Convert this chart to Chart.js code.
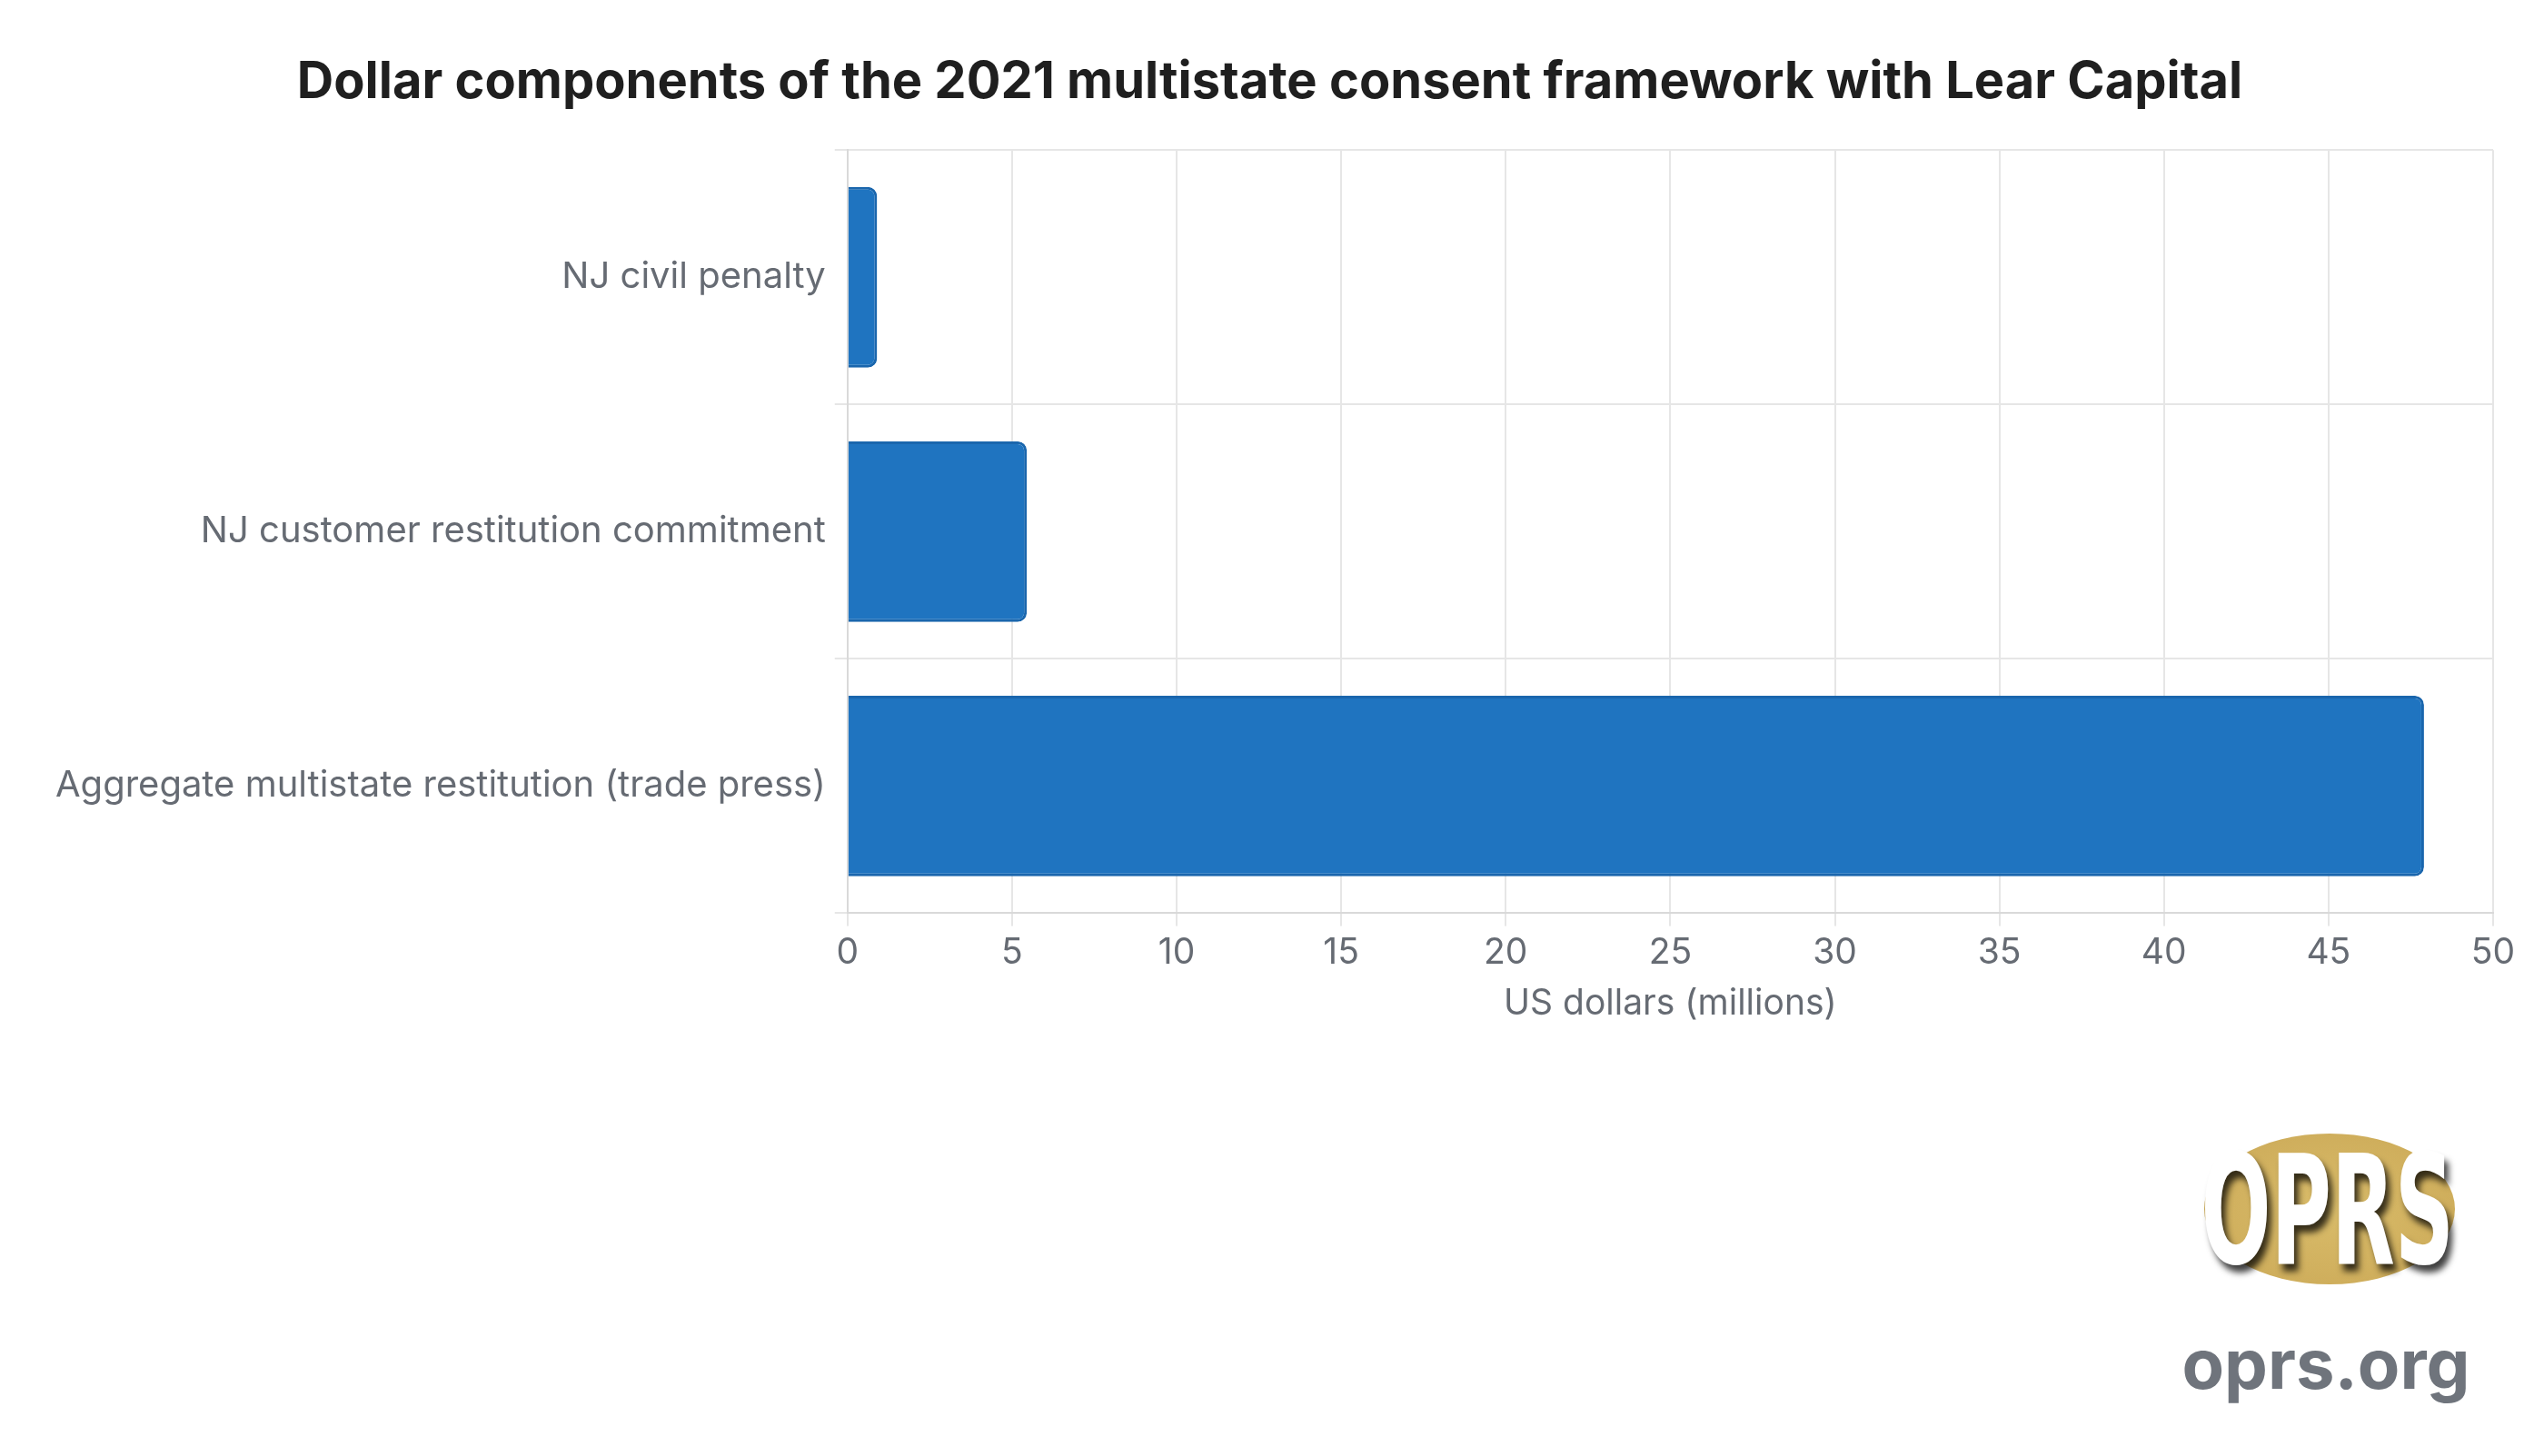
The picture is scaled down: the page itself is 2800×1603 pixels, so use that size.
<!DOCTYPE html>
<html>
<head>
<meta charset="utf-8">
<script src="https://cdn.jsdelivr.net/npm/chart.js@4"></script>
<style>
  body { margin: 0; background: #fff; }
  #wrap { position: relative; width: 2800px; height: 1603px; }
  #logo { position: absolute; left: 2420px; top: 1248px; width: 282px; height: 166px; }
  #oval { position: absolute; left: 6px; top: 0; width: 276px; height: 166px; border-radius: 50%;
          background: radial-gradient(ellipse at center, #d9bc6a 0%, #cfae5c 70%, #c4a350 100%); }
  #oprs { position: absolute; left: -62px; top: 2px; width: 322px; text-align: center;
          font: bold 168px "Liberation Sans Narrow", "DejaVu Sans Condensed", sans-serif; color: #fff;
          transform: scaleX(0.6); letter-spacing: 0px; line-height: 166px;
          text-shadow: 8px 8px 10px rgba(0,0,0,0.75); }
  #site { position: absolute; left: 2400px; top: 1455px; width: 320px; text-align: center;
          font: bold 76px Inter, sans-serif; color: #6f747c; }
</style>
</head>
<body>
<div id="wrap">
  <canvas id="c" width="2800" height="1603"></canvas>
  <div id="logo"><div id="oval"></div><div id="oprs">OPRS</div></div>
  <div id="site">oprs.org</div>
</div>
<script>
var categories = ['NJ civil penalty', 'NJ customer restitution commitment', 'Aggregate multistate restitution (trade press)'];
var values = [0.9, 5.45, 47.9];
var xTicks = [0, 5, 10, 15, 20, 25, 30, 35, 40, 45, 50];

new Chart(document.getElementById('c').getContext('2d'), {
    type: 'bar',
    data: {
        labels: categories,
        datasets: [{
            data: values,
            backgroundColor: '#1f74c0',
            borderColor: '#1a66ad',
            borderWidth: 3,
            borderRadius: 10,
            borderSkipped: 'start',
            categoryPercentage: 1.0,
            barPercentage: 0.71
        }]
    },
    options: {
        indexAxis: 'y',
        responsive: false,
        animation: false,
        layout: { padding: { left: 51, right: 56, top: 20, bottom: 470 } },
        plugins: {
            legend: { display: false },
            tooltip: { enabled: false },
            title: {
                display: true,
                text: 'Dollar components of the 2021 multistate consent framework with Lear Capital',
                color: '#1f1f1f',
                font: { family: 'Inter', size: 56, weight: 'bold' },
                padding: { top: 38, bottom: 40 }
            }
        },
        scales: {
            x: {
                min: 0, max: 50,
                afterBuildTicks: function(axis) { axis.ticks = xTicks.map(function(v) { return { value: v }; }); },
                grid: { color: '#e6e6e6', lineWidth: 2, tickLength: 14 },
                border: { color: '#d9d9d9', width: 2 },
                ticks: { color: '#666b73', font: { family: 'Inter', size: 39 }, padding: 6 },
                title: { display: true, text: 'US dollars (millions)', color: '#666b73',
                         font: { family: 'Inter', size: 39 }, padding: { top: 4 } }
            },
            y: {
                grid: { color: '#e6e6e6', lineWidth: 2, tickLength: 14 },
                border: { color: '#d9d9d9', width: 2 },
                ticks: { color: '#666b73', font: { family: 'Inter', size: 40 }, padding: 10 }
            }
        }
    }
});
</script>
</body>
</html>
